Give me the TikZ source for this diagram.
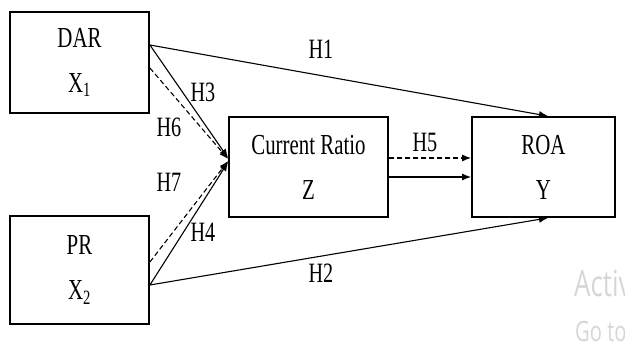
\documentclass[tikz,border=0pt]{standalone}
\usepackage{fontspec}
\setmainfont[FakeStretch=0.72]{Liberation Serif}
\newfontfamily\wmfont[FakeStretch=0.72]{Open Sans}
\usetikzlibrary{arrows.meta}
\begin{document}
\begin{tikzpicture}[x=1pt,y=-1pt,
  box/.style={draw, line width=1.8pt, align=center, inner sep=0pt,
    font=\fontsize{29}{45}\selectfont},
  lbl/.style={font=\fontsize{28}{30}\selectfont, inner sep=0pt},
  arr/.style={line width=1.1pt, -{Latex[length=9pt,width=7pt]}},
  darr/.style={arr, dashed, dash pattern=on 5pt off 3pt},
  wm/.style={text=gray!32, anchor=base west, inner sep=0pt}]
\useasboundingbox (0,0) rectangle (625,347);
\clip (0,0) rectangle (625,347);
\node[box, minimum width=139pt, minimum height=101pt] (dar) at (79.5,62.5) {DAR\\X\textsubscript{1}};
\node[box, minimum width=139pt, minimum height=108pt] (pr) at (79.5,270) {PR\\X\textsubscript{2}};
\node[box, minimum width=159pt, minimum height=100pt] (cr) at (308.5,167) {Current Ratio\\Z};
\node[box, minimum width=143pt, minimum height=100pt] (roa) at (543.5,167) {ROA\\Y};
\draw[arr] ([yshift=17.5pt]dar.east) -- ([xshift=4.5pt]roa.north);
\draw[arr] ([yshift=17.5pt]dar.east) -- ([yshift=9pt]cr.west);
\draw[darr] ([yshift=-5.5pt]dar.east) -- ([yshift=8pt]cr.west);
\draw[arr] ([yshift=-15pt]pr.east) -- ([xshift=4.5pt]roa.south);
\draw[arr] ([yshift=-15pt]pr.east) -- ([yshift=5pt]cr.west);
\draw[darr] ([yshift=8pt]pr.east) -- ([yshift=6pt]cr.west);
\draw[darr] ([yshift=9pt]cr.east) -- ([yshift=9pt]roa.west);
\draw[arr] ([yshift=-10pt]cr.east) -- ([yshift=-10pt]roa.west);
\node[lbl] (h1) at (321,49) {H1};
\node[lbl] (h2) at (321,273) {H2};
\node[lbl] (h3) at (203,92) {H3};
\node[lbl] (h4) at (203,232) {H4};
\node[lbl] (h5) at (425,142) {H5};
\node[lbl] (h6) at (169,127) {H6};
\node[lbl] (h7) at (169,182) {H7};
\node[wm, font=\wmfont\fontsize{36}{40}\selectfont] (w1) at (574,297) {Activ};
\node[wm, font=\wmfont\fontsize{28}{30}\selectfont] (w2) at (575,342) {Go to};
\end{tikzpicture}
\end{document}
